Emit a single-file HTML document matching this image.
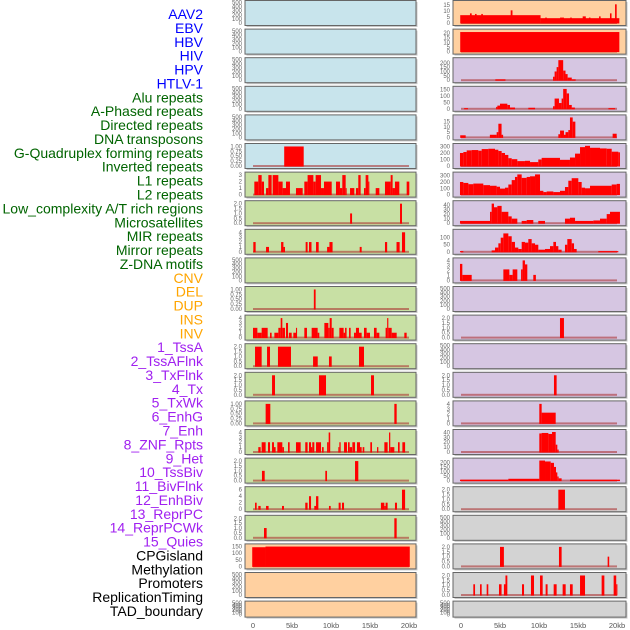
<!DOCTYPE html>
<html><head><meta charset="utf-8">
<style>
html,body{margin:0;padding:0;background:#fff;}
svg{display:block;font-family:"Liberation Sans",sans-serif;}
</style></head>
<body>
<svg id="chart" width="630" height="630" viewBox="0 0 630 630"></svg>
<script>
const rowLabels=["AAV2","EBV","HBV","HIV","HPV","HTLV-1","Alu repeats","A-Phased repeats","Directed repeats","DNA transposons","G-Quadruplex forming repeats","Inverted repeats","L1 repeats","L2 repeats","Low_complexity A/T rich regions","Microsatellites","MIR repeats","Mirror repeats","Z-DNA motifs","CNV","DEL","DUP","INS","INV","1_TssA","2_TssAFlnk","3_TxFlnk","4_Tx","5_TxWk","6_EnhG","7_Enh","8_ZNF_Rpts","9_Het","10_TssBiv","11_BivFlnk","12_EnhBiv","13_ReprPC","14_ReprPCWk","15_Quies","CPGisland","Methylation","Promoters","ReplicationTiming","TAD_boundary"];
const labelColors=[].concat(Array(6).fill("#0000ff"),Array(13).fill("#006400"),Array(5).fill("#ffa500"),Array(15).fill("#a020f0"),Array(5).fill("#000000"));
const xTickLabels=["0","5kb","10kb","15kb","20kb"];
const xTickValues=[0,5,10,15,20];
const E=[0,100,200,300,400,500],EL=["0","100","200","300","400","500"];
const T1=[0,.25,.5,.75,1],T1L=["0.00","0.25","0.50","0.75","1.00"];
const T2=[0,.5,1,1.5,2],T2L=["0.0","0.5","1.0","1.5","2.0"];
const T3=[0,1,2,3],T4=[0,1,2,3,4];
const leftBg=["#c8e4ec","#c8e4ec","#c8e4ec","#c8e4ec","#c8e4ec","#c8e4ec","#c8e0a4","#c8e0a4","#c8e0a4","#c8e0a4","#c8e0a4","#c8e0a4","#c8e0a4","#c8e0a4","#c8e0a4","#c8e0a4","#c8e0a4","#c8e0a4","#c8e0a4","#ffd0a0","#ffd0a0","#ffd0a0"];
const rightBg=["#ffd0a0","#ffd0a0","#d6c6e2","#d6c6e2","#d6c6e2","#d6c6e2","#d6c6e2","#d6c6e2","#d6c6e2","#d6c6e2","#d6c6e2","#d6c6e2","#d6c6e2","#d6c6e2","#d6c6e2","#d6c6e2","#d6c6e2","#d3d3d3","#d3d3d3","#d3d3d3","#d3d3d3","#d3d3d3"];
const leftYMax=[500,500,500,500,500,1.05,3.15,2.1,4.2,500,1.05,4.2,2.1,2.1,1.05,4.2,2.1,6.3,2.1,155,500,500];
const rightYMax=[17,22,235,160,19.5,315,325,45,145,4.1,500,2.1,500,2.1,4.2,42,225,2.1,500,2.1,2.1,500];
const leftTicks=[E,E,E,E,E,T1,T3,T2,T4,E,T1,T4,T2,T2,T1,T4,T2,[0,2,4,6],T2,[0,50,100,150],E,E];
const leftTickLabels=[EL,EL,EL,EL,EL,T1L,["0","1","2","3"],T2L,["0","1","2","3","4"],EL,T1L,["0","1","2","3","4"],T2L,T2L,T1L,["0","1","2","3","4"],T2L,["0","2","4","6"],T2L,["0","50","100","150"],EL,EL];
const rightTicks=[[0,5,10,15],[0,5,10,15,20],[0,50,100,150,200],[0,50,100,150],[0,5,10,15],[0,100,200,300],[0,100,200,300],[0,10,20,30,40],[0,50,100],T4,E,T2,E,T2,T4,[0,10,20,30,40],[0,50,100,150,200],T2,E,T2,T2,E];
const rightTickLabels=[["0","5","10","15"],["0","5","10","15","20"],["0","50","100","150","200"],["0","50","100","150"],["0","5","10","15"],["0","100","200","300"],["0","100","200","300"],["0","10","20","30","40"],["0","50","100"],["0","1","2","3","4"],EL,T2L,EL,T2L,["0","1","2","3","4"],["0","10","20","30","40"],["0","50","100","150","200"],T2L,EL,T2L,T2L,EL];
// segments: [startKb, endKb, value]
const leftSeries=[[],[],[],[],[],
[[4,6.5,1]],
[[0.17,0.68,2],[0.68,1.11,3],[1.11,1.41,2],[1.67,1.97,1],[1.97,2.39,3],[2.52,3.25,3],[3.25,3.8,2],[3.8,4.23,1],[4.23,4.74,2],[5.51,6.37,1],[6.58,7.0,2],[7.0,7.74,3],[7.74,8.03,2],[8.03,8.72,3],[8.72,9.1,1],[9.1,10.09,2],[10.64,11.15,2],[11.15,11.45,1],[11.45,11.88,3],[11.88,12.0,1],[12.44,12.99,1],[13.2,13.5,1],[13.5,13.8,3],[14.23,14.44,1],[14.44,14.79,3],[14.79,14.91,2],[15.73,16.2,1],[16.92,17.65,2],[17.65,17.9,3],[17.9,18.2,1],[18.2,18.76,2],[19.7,20.04,2]],
[[12.45,12.7,1],[18.85,19.1,2]],
[[0.04,0.34,2],[1.67,2.05,1],[3.6,3.9,2],[3.9,4.1,1],[6.75,7.0,2],[7.18,7.5,2],[8.08,8.42,2],[9.5,9.8,1],[9.8,10.2,2],[13.68,13.93,1],[16.92,17.2,2],[18.4,18.8,2],[19.1,19.5,4]],
[],
[[7.8,8.03,1]],
[[0,0.56,2],[0.56,1.11,1],[1.11,1.88,2],[2.18,2.39,1],[2.74,3.25,1],[3.25,3.55,2],[3.55,3.76,4],[3.76,4.1,2],[4.23,4.49,3],[4.6,4.96,1],[5.17,5.51,1],[5.51,5.65,2],[6.58,6.92,2],[7.52,8.29,2],[8.29,8.5,1],[9.15,9.66,3],[9.66,9.83,2],[9.83,10.09,4],[10.09,10.34,2],[11.07,11.62,2],[11.62,11.8,1],[11.8,12.0,2],[12.31,12.52,2],[12.95,13.2,1],[13.2,13.59,2],[13.59,13.93,1],[14.23,14.57,2],[14.57,15.0,1],[15.51,15.85,2],[15.85,16.2,1],[17.0,17.2,2],[17.2,17.35,4],[17.35,17.78,2],[17.78,18.42,1],[19.4,19.7,1]],
[[0.26,1.11,2],[1.8,2.18,2],[3.2,4.87,2],[7.7,8.3,1],[9.74,10.09,1],[13.59,14.23,2]],
[[2.44,2.82,2],[8.46,9.36,2],[15.13,15.51,2]],
[[1.62,2.22,1],[18.12,18.42,1]],
[[0.68,0.98,1],[1.11,1.62,2],[1.92,2.18,2],[2.44,2.69,2],[2.69,2.9,1],[3.12,3.76,2],[3.76,3.97,1],[4.49,4.7,2],[5.51,6.11,2],[6.7,7.0,2],[7.18,7.44,2],[7.44,7.6,1],[7.6,7.86,2],[8.08,8.72,2],[8.85,9.06,1],[9.5,9.7,2],[9.7,9.9,4],[10.94,11.07,1],[11.07,11.24,2],[11.67,12.05,2],[12.18,12.39,2],[12.39,12.7,1],[12.74,13.08,2],[13.33,13.72,2],[13.72,13.93,1],[14.06,14.27,1],[15.04,15.26,2],[15.9,16.07,1],[16.84,17.26,2],[17.44,17.6,4],[17.6,18.12,1],[18.59,18.8,2],[19.15,19.5,2]],
[[1.15,1.5,1],[9.27,9.49,1],[13.08,13.5,2]],
[[0.26,0.47,2],[0.68,0.98,1],[1.67,2.0,1],[3.72,3.97,1],[6.7,7.0,2],[7.18,7.44,4],[7.86,8.08,1],[8.08,8.38,4],[9.74,9.96,1],[10.98,11.24,2],[11.41,11.67,2],[16.4,16.84,2],[16.84,17.0,1],[17.0,17.26,2],[18.2,18.46,2],[19.1,19.5,6]],
[[1.41,1.75,1],[18.12,18.42,2]],
[[-0.1,1.6,145],[1.6,20.1,150]],
[],[]];
const rightSeries=[
[[-0.1,10.2,6.5],[10.2,20.3,4],[1.15,1.37,8],[1.8,2.0,7.5],[2.6,2.8,7.5],[6.37,6.6,10.5],[10.8,11.0,4.5],[12.7,13.2,4.5],[14.0,14.2,4.5],[15.6,16.0,5.5],[16.4,16.6,4.5],[17.7,17.9,5.5],[19.1,19.3,8],[19.75,19.96,15.5]],
[[-0.1,20.3,21]],
[[4.4,5.7,10],[11.8,12.0,40],[12.0,12.26,100],[12.26,12.48,150],[12.48,13.1,230],[13.1,13.4,110],[13.4,13.67,70],[13.67,14.2,30],[14.2,14.7,10]],
[[0.4,0.9,5],[4.5,4.66,15],[4.66,5.0,25],[5.0,5.94,40],[5.94,6.28,30],[6.28,6.92,10],[8.63,9.49,8],[11.8,12.0,20],[12.0,12.56,80],[12.56,12.9,45],[12.9,13.1,80],[13.1,13.55,155],[13.55,13.85,120],[13.85,14.2,30],[14.2,14.6,10],[18.9,19.75,5]],
[[-0.1,0.6,2],[3.7,4.57,2.5],[4.57,4.79,5],[4.79,5.2,13],[5.2,5.4,2.5],[12.48,12.7,3],[12.7,13.2,6.5],[13.2,13.4,2.5],[13.4,13.76,5],[13.76,13.97,7],[13.97,14.32,19],[14.32,14.66,15],[19.44,19.96,3.5]],
[[-0.13,0.3,200],[0.3,0.73,215],[0.73,1.37,240],[1.37,2.22,245],[2.22,2.65,235],[2.65,3.5,260],[3.5,4.36,265],[4.36,4.79,250],[4.79,5.21,230],[5.21,5.64,200],[5.64,6.07,170],[6.07,6.5,120],[6.5,7.22,105],[7.22,8.2,75],[8.2,8.85,80],[8.85,9.91,60],[9.91,10.34,100],[10.34,12.69,125],[12.69,13.97,95],[13.97,14.62,130],[14.62,15.26,190],[15.26,15.9,290],[15.9,16.54,310],[16.54,17.82,280],[17.82,18.68,270],[18.68,19.32,265],[19.32,20.17,220],[20.17,20.38,210]],
[[-0.13,0.3,200],[0.3,0.94,185],[0.94,1.58,165],[1.58,2.86,175],[2.86,3.72,150],[3.72,4.57,140],[4.57,5.0,125],[5.0,5.64,95],[5.64,6.07,110],[6.07,6.5,160],[6.5,6.92,230],[6.92,7.22,280],[7.22,7.78,320],[7.78,8.42,265],[8.42,8.85,280],[8.85,9.49,290],[9.49,10.13,320],[10.13,10.56,60],[10.56,10.98,40],[10.98,11.84,50],[11.84,12.69,40],[12.69,13.33,60],[13.33,13.76,120],[13.76,14.19,220],[14.19,15.04,260],[15.04,15.47,200],[15.47,15.9,110],[15.9,16.54,100],[16.54,19.32,140],[19.32,19.96,160],[19.96,20.38,170]],
[[-0.13,3.72,5],[3.72,3.93,25],[3.93,4.23,43],[4.23,4.66,35],[4.66,5.21,38],[5.21,6.07,25],[6.07,6.5,15],[6.5,7.22,10],[7.78,8.42,5],[8.42,9.27,7],[9.91,10.77,5],[13.33,13.97,10],[13.97,14.62,12],[14.62,16.97,5],[16.97,17.82,6],[17.82,18.68,10],[18.68,19.1,20],[19.1,20.38,25]],
[[-0.13,0.3,5],[3.93,4.36,10],[4.36,4.79,30],[4.79,5.09,60],[5.09,5.43,100],[5.43,6.07,130],[6.07,6.5,110],[6.5,6.92,70],[6.92,7.35,30],[7.35,7.78,20],[7.78,8.2,70],[8.2,8.63,65],[8.63,9.06,90],[9.06,9.49,60],[9.49,9.91,50],[9.91,10.77,15],[10.77,11.41,20],[11.41,11.84,40],[11.84,12.18,70],[12.18,12.48,40],[12.48,12.9,15],[13.33,13.63,50],[13.63,14.19,90],[14.19,14.49,60],[14.49,14.83,20],[17.6,20.17,5]],
[[-0.13,0.17,3.3],[0.17,1.37,1.1],[5.43,6.2,2.2],[6.2,6.62,1.1],[6.62,7.22,2.2],[7.7,7.9,2.2],[7.9,8.2,4],[8.2,8.5,3.2],[9.27,9.6,1.1]],
[],
[[12.69,13.2,2]],
[],
[[11.92,12.26,2]],
[[10.04,10.34,4],[10.34,12.14,2.2]],
[[10.04,10.34,38],[10.34,11.2,39],[11.2,11.67,37],[11.67,12.14,41],[12.14,12.35,15],[12.35,12.52,5]],
[[-0.13,6.07,10],[6.07,10.04,20],[10.04,10.77,220],[10.77,11.5,210],[11.5,11.92,195],[11.92,12.18,150],[12.18,12.35,90],[12.35,12.52,45],[12.52,12.9,25],[13.97,20.38,10]],
[[12.48,13.33,2]],
[],
[[5.0,5.5,2],[12.56,12.9,2],[18.8,19.0,1]],
[[1.58,1.8,1.1],[2.44,2.65,1.1],[3.29,3.5,1.1],[4.87,5.2,1.1],[5.5,5.7,1.1],[5.7,5.94,2],[7.82,8.08,1.1],[8.97,9.36,2],[10.13,10.47,2],[10.85,11.1,1.1],[11.88,12.26,1.1],[13.03,13.42,1.1],[13.97,14.32,1.1],[15.26,15.9,2],[18.03,18.38,2],[19.57,19.9,2],[19.9,20.05,1.1]],
[]];

const NS="http://www.w3.org/2000/svg";
const svg=document.getElementById("chart");
function mk(tag,attrs,parent){const e=document.createElementNS(NS,tag);for(const k in attrs)e.setAttribute(k,attrs[k]);(parent||svg).appendChild(e);return e;}
const cols=[{x0:245,x1:416,zero:253,bg:leftBg,ymax:leftYMax,ticks:leftTicks,tl:leftTickLabels,series:leftSeries,side:"left"},
            {x0:453,x1:626,zero:461,bg:rightBg,ymax:rightYMax,ticks:rightTicks,tl:rightTickLabels,series:rightSeries,side:"right"}];
const pxPerKb=7.8;
function rowTop(i){return 28.6*i+0.5;}
function rowH(i){return i===21?16:25;}

const lg=mk("g",{});


const nL=rowLabels.length;
rowLabels.forEach((t,i)=>{
  const y=14+i*(597/(nL-1))+5;
  const el=mk("text",{x:203,y:y,"text-anchor":"end","font-size":"14",fill:labelColors[i]},lg);
  el.textContent=t;
  
  
});

cols.forEach(c=>{
  const xs=kb=>c.zero+kb*pxPerKb;
  for(let i=0;i<22;i++){
    const top=rowTop(i),h=rowH(i),bot=top+h;
    const ymax=c.ymax[i];
    const ys=v=>bot-2.5-v/ymax*(h-4.5);
    const g=mk("g",{});
    
    
    mk("rect",{x:c.x0+1.5,y:top+1.5,width:c.x1-c.x0,height:h,fill:"#c8c8c8"},g);
    mk("rect",{x:c.x0,y:top,width:c.x1-c.x0,height:h,fill:c.bg[i],stroke:"#666","stroke-width":1},g);
    const segs=c.series[i];
    if(segs.length){
      const bl=mk("rect",{x:xs(0),y:ys(0)-1,width:20*pxPerKb,height:2,fill:"rgba(170,40,40,0.55)"},g);
      
      
    }
    segs.forEach(s=>{
      const yTop=Math.max(top+0.5,ys(s[2]));
      const r=mk("rect",{x:xs(s[0]),y:yTop,width:Math.max(1,xs(s[1])-xs(s[0])),height:ys(0)-yTop+0.5,fill:"#ff0000"},g);
      
      
    });
    c.ticks[i].forEach((v,k)=>{
      const t=mk("text",{x:c.x0-3,y:ys(v)+2,"text-anchor":"end","font-size":"6",fill:"#666"},g);
      t.textContent=c.tl[i][k];
      
      
    });
  }
  xTickValues.forEach((v,k)=>{
    const t=mk("text",{x:xs(v),y:628,"text-anchor":"middle","font-size":"7.5",fill:"#555"});
    t.textContent=xTickLabels[k];
    
    
  });
});
</script>
</body></html>
